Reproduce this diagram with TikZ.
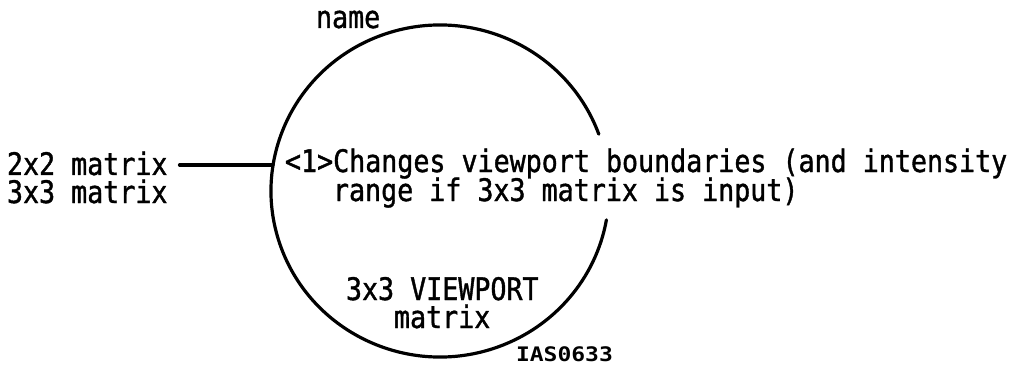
\documentclass[tikz,border=0pt]{standalone}
\usepackage{fontspec}
\usetikzlibrary{calc}
\newfontfamily\mono[FakeStretch=0.86,FakeBold=1.2]{DejaVu Sans Mono}
\newfontfamily\tagfont[FakeStretch=1.15]{DejaVu Sans Mono}
\begin{document}
\begin{tikzpicture}[x=1pt,y=-1pt,
  lbl/.style={inner sep=0pt,outer sep=0pt,anchor=base west,font=\mono\fontsize{31}{28}\selectfont},
  tag/.style={inner sep=0pt,outer sep=0pt,anchor=base west,font=\tagfont\bfseries\fontsize{20}{20}\selectfont},
  ink/.style={line width=3.2pt,line cap=round}]
\useasboundingbox (0,0) rectangle (1016,366);
% process circle (broken on the right where the text passes)
\coordinate (ctr) at (440,191);
\coordinate (arcstart) at ($(ctr)+({169*cos(-20)},{166*sin(-20)})$);
\draw[ink] (arcstart) arc[start angle=-20,end angle=-350,x radius=169,y radius=166];
\coordinate (cleft) at (273,165);
% labels
\node[lbl] (nm) at (316,28) {name};
\node[lbl] (in1) at (7,175) {2x2 matrix};
\node[lbl] (in2) at (7,203) {3x3 matrix};
\node[lbl] (t1) at (285,172) {<1>Changes viewport boundaries (and intensity};
\node[lbl] (t2) at (333,201) {range if 3x3 matrix is input)};
\node[lbl] (o1) at (346,300) {3x3 VIEWPORT};
\node[lbl] (o2) at (394,328) {matrix};
\node[tag] (id) at (516,361) {IAS0633};
% connector
\coordinate (lstart) at ($(in1.base east)+(12,-10)$);
\draw[ink] (lstart) -- (cleft);
\end{tikzpicture}
\end{document}
